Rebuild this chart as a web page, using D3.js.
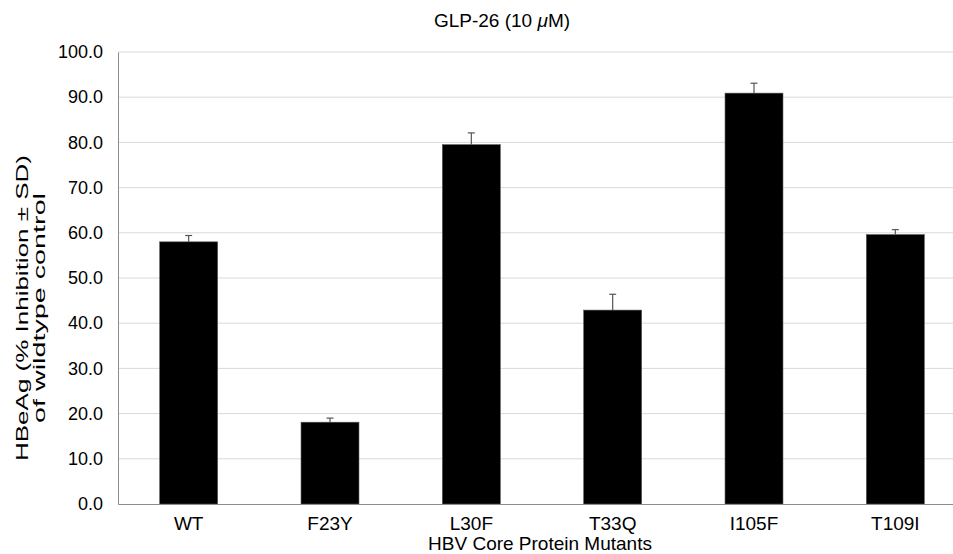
<!DOCTYPE html>
<html>
<head>
<meta charset="utf-8">
<script src="https://cdn.jsdelivr.net/npm/d3@7"></script>
<style>
  body { margin: 0; background: #fff; }
  svg { display: block; font-family: "Liberation Sans", Arial, sans-serif; }
</style>
</head>
<body>
<div id="chart"></div>
<script>
// values
var mutants = ["WT", "F23Y", "L30F", "T33Q", "I105F", "T109I"];
var inhibition = [58.0, 18.1, 79.5, 42.9, 90.9, 59.6];
var sd = [1.4, 0.9, 2.6, 3.5, 2.2, 1.1];
var yTicks = [0, 10, 20, 30, 40, 50, 60, 70, 80, 90, 100];

var width = 953, height = 554;
var plotLeft = 118, plotRight = 966, plotTop = 52, plotBottom = 504;

var svg = d3.select("#chart").append("svg")
    .attr("width", width)
    .attr("height", height);

var x = d3.scaleBand()
    .domain(mutants)
    .range([plotLeft, plotRight])
    .paddingInner(0.59)
    .paddingOuter(0.295);

var y = d3.scaleLinear()
    .domain([0, 100])
    .range([plotBottom, plotTop]);

// gridlines
svg.append("g")
    .selectAll("line")
    .data(yTicks.slice(1))
    .enter().append("line")
    .attr("x1", plotLeft)
    .attr("x2", plotRight)
    .attr("y1", function (d) { return y(d); })
    .attr("y2", function (d) { return y(d); })
    .attr("stroke", "#d9d9d9")
    .attr("stroke-width", 1);

// y axis
var yAxis = svg.append("g")
    .attr("transform", "translate(" + plotLeft + ",0)")
    .call(d3.axisLeft(y).tickValues(yTicks).tickSize(0).tickPadding(15)
        .tickFormat(d3.format(".1f")));
yAxis.select(".domain").attr("stroke", "#8c8c8c");
yAxis.selectAll("text").attr("font-size", 18).attr("fill", "#000")
    .attr("font-family", "'Liberation Sans', Arial, sans-serif");

// bars
var data = mutants.map(function (m, i) { return {name: m, v: inhibition[i], sd: sd[i]}; });

svg.append("g")
    .selectAll("rect")
    .data(data)
    .enter().append("rect")
    .attr("x", function (d) { return x(d.name); })
    .attr("width", x.bandwidth())
    .attr("y", function (d) { return y(d.v); })
    .attr("height", function (d) { return y(0) - y(d.v); })
    .attr("fill", "#000")
    .attr("stroke", "#555")
    .attr("stroke-width", 0.6);

// error bars (upper only)
var err = svg.append("g").attr("stroke", "#555").attr("stroke-width", 1.2);
err.selectAll(".stem")
    .data(data)
    .enter().append("line")
    .attr("class", "stem")
    .attr("x1", function (d) { return x(d.name) + x.bandwidth() / 2; })
    .attr("x2", function (d) { return x(d.name) + x.bandwidth() / 2; })
    .attr("y1", function (d) { return y(d.v); })
    .attr("y2", function (d) { return y(d.v + d.sd); });
err.selectAll(".cap")
    .data(data)
    .enter().append("line")
    .attr("class", "cap")
    .attr("x1", function (d) { return x(d.name) + x.bandwidth() / 2 - 3.5; })
    .attr("x2", function (d) { return x(d.name) + x.bandwidth() / 2 + 3.5; })
    .attr("y1", function (d) { return y(d.v + d.sd); })
    .attr("y2", function (d) { return y(d.v + d.sd); });

// x axis
var xAxis = svg.append("g")
    .attr("transform", "translate(0," + plotBottom + ")")
    .call(d3.axisBottom(x).tickSize(0).tickPadding(13));
xAxis.select(".domain").attr("stroke", "#8c8c8c");
xAxis.selectAll("text").attr("font-size", 19).attr("fill", "#000")
    .attr("font-family", "'Liberation Sans', Arial, sans-serif");

// titles
var title = svg.append("text")
    .attr("x", 502)
    .attr("y", 27)
    .attr("text-anchor", "middle")
    .attr("font-size", 19)
    .text("GLP-26 (10 ");
title.append("tspan").attr("font-style", "italic").text("\u03bc");
title.append("tspan").text("M)");

svg.append("text")
    .attr("x", 540)
    .attr("y", 550)
    .attr("text-anchor", "middle")
    .attr("font-size", 19)
    .text("HBV Core Protein Mutants");

svg.append("text")
    .attr("transform", "translate(28,308) rotate(-90)")
    .attr("text-anchor", "middle")
    .attr("font-size", 16)
    .attr("textLength", 306)
    .attr("lengthAdjust", "spacingAndGlyphs")
    .text("HBeAg (% Inhibition \u00b1 SD)");

svg.append("text")
    .attr("transform", "translate(45,308) rotate(-90)")
    .attr("text-anchor", "middle")
    .attr("font-size", 16)
    .attr("textLength", 230)
    .attr("lengthAdjust", "spacingAndGlyphs")
    .text("of wildtype control");
</script>
</body>
</html>
